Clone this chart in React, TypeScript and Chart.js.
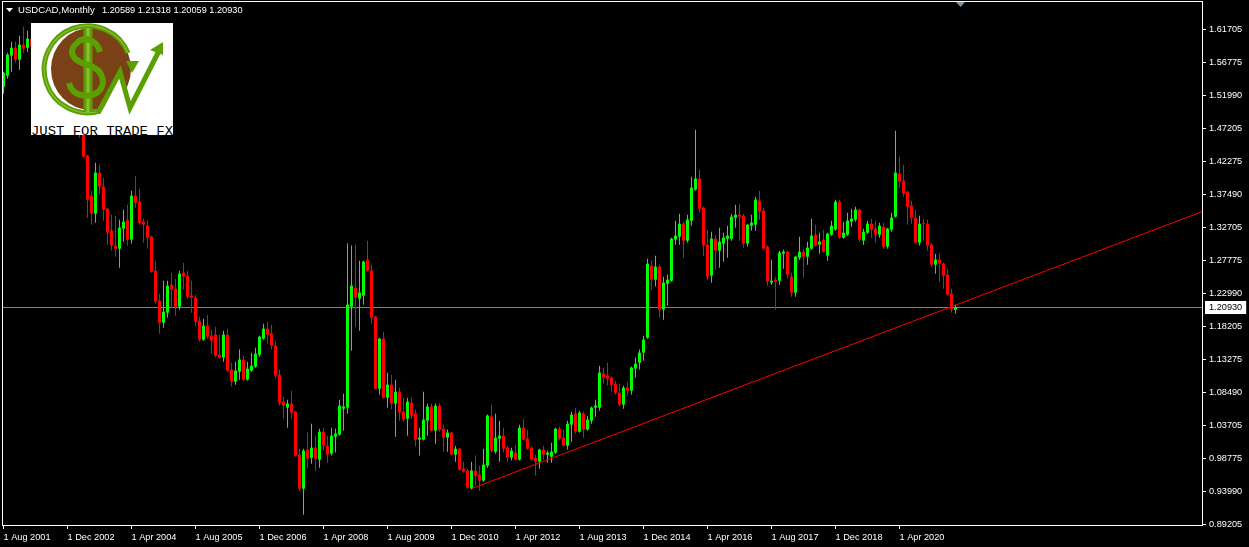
import React, { useEffect, useRef } from "react";
import { Chart, registerables } from "chart.js";

Chart.register(...registerables);

const symbolLabel = "USDCAD,Monthly";
const quoteLabel = "1.20589 1.21318 1.20059 1.20930";
const logoText = "JUST FOR TRADE FX";

const currentPrice = 1.2093;
const priceTicks = [1.61705, 1.56775, 1.5199, 1.47205, 1.42275, 1.3749, 1.32705, 1.27775, 1.2299, 1.18205, 1.13275, 1.0849, 1.03705, 0.98775, 0.9399, 0.89205];
const dateTickIndex = [0, 16, 32, 48, 64, 80, 96, 112, 128, 144, 160, 176, 192, 208, 224];
const dateLabels = ["1 Aug 2001", "1 Dec 2002", "1 Apr 2004", "1 Aug 2005", "1 Dec 2006", "1 Apr 2008", "1 Aug 2009", "1 Dec 2010", "1 Apr 2012", "1 Aug 2013", "1 Dec 2014", "1 Apr 2016", "1 Aug 2017", "1 Dec 2018", "1 Apr 2020"];

const opens = [
  1.5328,1.5489,1.5783,1.5899,1.5724,1.5944,1.5899,1.6032,1.5944,1.5841,
  1.6046,1.5870,1.5607,1.5753,1.5519,1.5695,1.5577,1.5314,1.4992,1.5138,
  1.4728,1.4318,1.3732,1.3468,1.4069,1.3864,1.3541,1.3219,1.3000,1.2955,
  1.3248,1.3380,1.3087,1.3732,1.3644,1.3351,1.3292,1.3131,1.2633,1.2193,
  1.1871,1.2018,1.2428,1.2369,1.2105,1.2604,1.2560,1.2267,1.2237,1.1900,
  1.1622,1.1827,1.1681,1.1695,1.1402,1.1359,1.1695,1.1183,1.1007,1.1153,
  1.1329,1.1036,1.1168,1.1227,1.1402,1.1637,1.1783,1.1710,1.1534,1.1109,
  1.0714,1.0626,1.0685,1.0567,.9937,.9439,1.0011,.9893,1.0040,.9864,
  1.0274,1.0069,.9952,1.0201,1.0230,1.0611,1.0626,1.2105,1.2384,1.2223,
  1.2267,1.2794,1.2633,1.1959,1.0904,1.1637,1.0772,1.0963,1.0685,1.0860,
  1.0567,1.0465,1.0699,1.0538,1.0157,1.0157,1.0435,1.0641,1.0289,1.0655,
  1.0318,1.0186,1.0260,.9937,1.0025,.9732,.9703,.9439,.9703,.9644,
  .9557,.9776,1.0494,.9981,1.0172,1.0216,1.0040,.9893,.9967,.9864,
  1.0333,1.0172,1.0040,.9893,.9835,1.0011,.9937,.9908,.9967,1.0318,
  1.0186,1.0069,1.0377,1.0538,1.0274,1.0538,1.0304,1.0435,1.0626,1.0626,
  1.1124,1.1095,1.1065,1.0977,1.0845,1.0670,1.0919,1.0875,1.1197,1.1285,
  1.1432,1.1651,1.2706,1.2501,1.2692,1.2062,1.2442,1.2486,1.3087,1.3131,
  1.3321,1.3072,1.3365,1.3820,1.3981,1.3556,1.3014,1.2560,1.3102,1.2926,
  1.3029,1.3102,1.3102,1.3409,1.3453,1.3438,1.3029,1.3292,1.3307,1.3658,
  1.3512,1.2985,1.2457,1.2501,1.2486,1.2882,1.2911,1.2545,1.2311,1.2823,
  1.2911,1.2838,1.2955,1.3160,1.3014,1.3087,1.2853,1.3160,1.3234,1.3644,
  1.3116,1.3160,1.3351,1.3380,1.3527,1.3072,1.3190,1.3321,1.3248,1.3160,
  1.3277,1.2985,1.3234,1.3424,1.4054,1.3952,1.3790,1.3585,1.3409,1.3043,
  1.3336,1.3321,1.3014,1.2721,1.2794,1.2735,1.2574,1.2296,1.20589,
];
const highs = [
  1.5548,1.5826,1.5987,1.5987,1.6076,1.6207,1.6149,1.6120,1.6017,1.6090,
  1.6105,1.5929,1.5841,1.5870,1.5797,1.5797,1.5636,1.5358,1.5211,1.5211,
  1.4772,1.4332,1.3805,1.4215,1.4186,1.3995,1.3556,1.3453,1.3438,1.3380,
  1.3527,1.3600,1.3805,1.4025,1.3834,1.3395,1.3365,1.3146,1.2779,1.2296,
  1.2486,1.2486,1.2604,1.2516,1.2633,1.2750,1.2633,1.2486,1.2281,1.1959,
  1.1930,1.1988,1.1769,1.1812,1.1695,1.1754,1.1783,1.1285,1.1300,1.1476,
  1.1388,1.1300,1.1432,1.1505,1.1681,1.1856,1.1886,1.1842,1.1607,1.1183,
  1.0787,1.0743,1.0875,1.0582,1.0025,1.0025,1.0260,1.0391,1.0216,1.0318,
  1.0333,1.0216,1.0333,1.0318,1.0743,1.0831,1.3029,1.3000,1.3014,1.2779,
  1.2779,1.3072,1.2721,1.1974,1.1651,1.1739,1.1139,1.1109,1.1036,1.0919,
  1.0772,1.0772,1.0772,1.0597,1.0333,1.0860,1.0685,1.0685,1.0685,1.0685,
  1.0377,1.0304,1.0274,1.0069,1.0040,.9835,.9732,.9835,.9923,.9776,
  1.0025,1.0524,1.0670,1.0538,1.0435,1.0333,1.0069,1.0040,1.0084,1.0377,
  1.0465,1.0304,1.0055,.9937,1.0025,1.0069,.9996,1.0113,1.0333,1.0348,
  1.0304,1.0435,1.0567,1.0626,1.0582,1.0567,1.0509,1.0641,1.0743,1.1241,
  1.1212,1.1285,1.1080,1.1021,1.0977,1.0948,1.1007,1.1227,1.1359,1.1476,
  1.1681,1.2809,1.2779,1.2853,1.2721,1.2545,1.2574,1.3116,1.3365,1.3468,
  1.3351,1.3453,1.4010,1.4699,1.4113,1.3570,1.3234,1.3204,1.3160,1.3263,
  1.3190,1.3292,1.3468,1.3600,1.3614,1.3468,1.3321,1.3453,1.3717,1.3805,
  1.3556,1.3000,1.2794,1.2545,1.2926,1.2941,1.2926,1.2604,1.2853,1.3131,
  1.2955,1.3058,1.3395,1.3307,1.3190,1.3234,1.3190,1.3365,1.3673,1.3673,
  1.3351,1.3483,1.3541,1.3570,1.3541,1.3248,1.3365,1.3395,1.3365,1.3336,
  1.3336,1.3263,1.3483,1.4684,1.4303,1.4186,1.3805,1.3658,1.3527,1.3438,
  1.3395,1.3380,1.3029,1.2882,1.2882,1.2750,1.2662,1.2369,1.21318,
];
const lows = [
  1.5226,1.5446,1.5548,1.5680,1.5577,1.5826,1.5841,1.5870,1.5753,1.5797,
  1.5783,1.5548,1.5548,1.5460,1.5431,1.5489,1.5211,1.4874,1.4918,1.4581,
  1.4288,1.3409,1.3307,1.3336,1.3761,1.3365,1.3014,1.2926,1.2838,1.2677,
  1.3058,1.3000,1.3029,1.3556,1.3307,1.3043,1.2955,1.2604,1.2149,1.1710,
  1.1798,1.1944,1.2091,1.1974,1.2062,1.2355,1.2223,1.2018,1.1827,1.1593,
  1.1607,1.1637,1.1417,1.1359,1.1344,1.1300,1.1153,1.0934,1.0963,1.1036,
  1.1021,1.1021,1.1153,1.1212,1.1373,1.1622,1.1563,1.1476,1.1051,1.0655,
  1.0465,1.0333,1.0465,.9908,.9410,.9058,.9747,.9805,.9703,.9747,
  .9996,.9820,.9923,.9967,1.0215,1.0289,1.0538,1.1461,1.1812,1.1754,
  1.2135,1.2618,1.1856,1.0890,1.0816,1.0758,1.0626,1.0597,1.0201,1.0435,
  1.0421,1.0216,1.0465,1.0055,.9923,1.0143,1.0216,1.0274,1.0098,1.0274,
  .9981,.9981,.9923,.9835,.9703,.9674,.9439,.9425,.9483,.9410,
  .9542,.9747,.9967,.9952,.9835,.9967,.9835,.9850,.9850,.9850,
  1.0143,1.0011,.9850,.9630,.9732,.9864,.9820,.9820,.9952,1.0143,
  1.0055,1.0011,1.0128,1.0245,1.0260,1.0186,1.0289,1.0391,1.0494,1.0582,
  1.0977,1.0948,1.0860,1.0816,1.0641,1.0611,1.0802,1.0816,1.1065,1.1183,
  1.1314,1.1637,1.2355,1.2399,1.1944,1.1915,1.2120,1.2472,1.3014,1.3014,
  1.2823,1.3043,1.3292,1.3805,1.3483,1.2853,1.2501,1.2457,1.2648,1.2677,
  1.2765,1.2823,1.3072,1.3263,1.3072,1.2970,1.2985,1.3219,1.3219,1.3380,
  1.2941,1.2413,1.2428,1.2062,1.2428,1.2662,1.2516,1.2252,1.2252,1.2794,
  1.2530,1.2721,1.2941,1.2985,1.2882,1.2897,1.2779,1.3146,1.3219,1.3102,
  1.3102,1.3146,1.3277,1.3351,1.3058,1.3014,1.3175,1.3116,1.3043,1.3116,
  1.2955,1.2955,1.3204,1.3409,1.3849,1.3717,1.3307,1.3321,1.3029,1.3000,
  1.3072,1.2926,1.2692,1.2589,1.2472,1.2369,1.2267,1.2018,1.20059,
];
const closes = [
  1.5533,1.5797,1.5899,1.5724,1.5944,1.5885,1.6032,1.5914,1.5841,1.6046,
  1.5870,1.5607,1.5753,1.5519,1.5695,1.5577,1.5285,1.4992,1.5138,1.4728,
  1.4303,1.3673,1.3468,1.4069,1.3864,1.3527,1.3190,1.3000,1.2955,1.3263,
  1.3351,1.3087,1.3732,1.3629,1.3336,1.3307,1.3116,1.2618,1.2179,1.1871,
  1.2032,1.2413,1.2355,1.2105,1.2589,1.2545,1.2252,1.2237,1.1886,1.1622,
  1.1827,1.1666,1.1607,1.1388,1.1359,1.1695,1.1168,1.1007,1.1168,1.1329,
  1.1036,1.1197,1.1241,1.1417,1.1666,1.1783,1.1695,1.1534,1.1095,1.0699,
  1.0655,1.0685,1.0553,.9923,.9439,.9996,.9879,1.0040,.9879,1.0274,
  1.0069,.9937,1.0216,1.0245,1.0655,1.0641,1.2135,1.2413,1.2237,1.2311,
  1.2765,1.2633,1.1944,1.0904,1.1637,1.0772,1.0963,1.0685,1.0860,1.0553,
  1.0450,1.0714,1.0509,1.0157,1.0186,1.0450,1.0641,1.0289,1.0655,1.0304,
  1.0186,1.0260,.9937,1.0025,.9718,.9688,.9454,.9703,.9630,.9557,
  .9791,1.0509,.9996,1.0186,1.0216,1.0025,.9893,.9996,.9864,1.0333,
  1.0157,1.0025,.9864,.9835,1.0011,.9937,.9967,.9981,1.0318,1.0172,
  1.0069,1.0391,1.0523,1.0274,1.0553,1.0304,1.0450,1.0626,1.0655,1.1139,
  1.1065,1.1051,1.0963,1.0845,1.0670,1.0919,1.0875,1.1212,1.1270,1.1432,
  1.1622,1.2735,1.2501,1.2692,1.2062,1.2457,1.2501,1.3102,1.3146,1.3321,
  1.3072,1.3380,1.3849,1.3981,1.3541,1.3000,1.2545,1.3102,1.2926,1.3058,
  1.3116,1.3146,1.3424,1.3453,1.3424,1.3029,1.3307,1.3336,1.3673,1.3497,
  1.2955,1.2472,1.2486,1.2472,1.2897,1.2911,1.2574,1.2311,1.2838,1.2911,
  1.2838,1.2970,1.3146,1.3000,1.3058,1.2911,1.3175,1.3292,1.3644,1.3116,
  1.3190,1.3365,1.3395,1.3527,1.3087,1.3204,1.3321,1.3234,1.3160,1.3292,
  1.2985,1.3248,1.3409,1.4069,1.3937,1.3761,1.3570,1.3409,1.3043,1.3321,
  1.3321,1.3000,1.2721,1.2794,1.2735,1.2560,1.2281,1.2062,1.20930,
];

const trendStart = { x: 117, y: 0.9439 };
const trendEnd = { x: 299.625, y: 1.3497 };
const xMin = -0.375;
const xMax = 299.625;
const yMin = 0.89066;
const yMax = 1.65836;

const FONT = '"Liberation Sans", Arial, sans-serif';
const AXIS_SIZE = 9.2;
const UP = "#00ff00";
const DOWN = "#ff0000";

const chrome = {
  id: "mt4Chrome",
  beforeDraw(chart: any) {
    const { ctx, width, height } = chart;
    ctx.save();
    ctx.fillStyle = "#000";
    ctx.fillRect(0, 0, width, height);
    ctx.restore();
  },
  afterDraw(chart: any) {
    const { ctx, chartArea: a } = chart;
    ctx.save();
    ctx.strokeStyle = "#fff";
    ctx.lineWidth = 1;
    ctx.strokeRect(a.left + 0.5, a.top + 0.5, a.right - a.left, a.bottom - a.top);
    ctx.fillStyle = "#fff";
    ctx.beginPath();
    ctx.moveTo(6, 8);
    ctx.lineTo(13, 8);
    ctx.lineTo(9.5, 12);
    ctx.closePath();
    ctx.fill();
    ctx.textBaseline = "alphabetic";
    ctx.textAlign = "left";
    ctx.font = `9.6px ${FONT}`;
    ctx.fillText(symbolLabel, 18, 13);
    ctx.font = `${AXIS_SIZE}px ${FONT}`;
    ctx.fillText(quoteLabel, 102, 13);
    ctx.fillStyle = "#7f95a5";
    ctx.beginPath();
    ctx.moveTo(956, 2);
    ctx.lineTo(965, 2);
    ctx.lineTo(960.5, 7);
    ctx.closePath();
    ctx.fill();
    ctx.restore();
  },
};

function Logo() {
  const green = "#5aa000";
  const light = "#8fbc3c";
  const brown = "#7a4117";
  return (
    <svg width={1249} height={547} style={{ position: "fixed", left: 0, top: 0, pointerEvents: "none" }}>
      <defs>
        <clipPath id="logoClip"><rect x={31} y={23} width={142} height={112} /></clipPath>
      </defs>
      <g clipPath="url(#logoClip)">
        <rect x={31} y={23} width={142} height={112} fill="#fff" />
        <ellipse cx={91} cy={69} rx={40} ry={41} fill={brown} />
        <polygon points="99,118 120,74 124,84 129,108 135,100 128,85 137,60 137,118" fill="#fff" />
        <path d="M100 111 A43.5 43.5 0 1 1 128 53" fill="none" stroke={green} strokeWidth={5} />
        <path d="M100 111 A43.5 43.5 0 1 1 128 53" fill="none" stroke={light} strokeWidth={1.2} />
        <polygon points="126,61 139,61 132,73" fill={green} />
        <rect x={83.5} y={28} width={9} height={84} fill={green} />
        <rect x={86.5} y={28} width={3} height={84} fill={light} />
        <path d="M100 52 C97 40 85 36 78 42 C68 50 70 60 88 65 C105 70 106 85 98 92 C88 99 72 96 69 83" fill="none" stroke={green} strokeWidth={6} />
        <polyline points="98,113 120,72 130,108 161,47" fill="none" stroke={green} strokeWidth={5} />
        <polygon points="150,50 163,42 163,55" fill={green} />
        <text x={31} y={134.5} textLength={142} lengthAdjust="spacingAndGlyphs" fontFamily="Liberation Mono" fontSize={13} fill="#000">{logoText}</text>
      </g>
    </svg>
  );
}

export default function App() {
  const ref = useRef<HTMLCanvasElement | null>(null);
  useEffect(() => {
    if (!ref.current) return;
    const colors = closes.map((c, i) => (c >= opens[i] ? UP : DOWN));
    const chart = new Chart(ref.current, {
      type: "bar",
      plugins: [chrome],
      data: {
        datasets: [
          {
            type: "line",
            label: "price",
            data: [{ x: xMin, y: currentPrice }, { x: xMax, y: currentPrice }],
            borderColor: "#808080",
            borderWidth: 1,
            pointRadius: 0,
            order: 10,
          },
          {
            label: "wick",
            data: lows.map((l, i) => ({ x: i, y: [l, highs[i]] })),
            backgroundColor: colors,
            barThickness: 1,
            grouped: false,
            inflateAmount: 0,
            order: 3,
          },
          {
            label: "body",
            data: opens.map((o, i) => ({ x: i, y: [o, closes[i]] })),
            backgroundColor: colors,
            barThickness: 3,
            grouped: false,
            inflateAmount: 0,
            order: 2,
          },
          {
            type: "line",
            label: "trend",
            data: [trendStart, trendEnd],
            borderColor: "#ff0000",
            borderWidth: 1,
            pointRadius: 0,
            order: 1,
          },
        ] as any,
      },
      options: {
        responsive: false,
        devicePixelRatio: 1,
        animation: false,
        events: [],
        layout: { padding: { left: 2, top: 1, right: 0, bottom: 0 } },
        plugins: { legend: { display: false }, tooltip: { enabled: false }, title: { display: false } },
        scales: {
          x: {
            type: "linear",
            offset: false,
            min: xMin,
            max: xMax,
            afterBuildTicks: (s: any) => { s.ticks = dateTickIndex.map((v) => ({ value: v })); },
            afterFit: (s: any) => { s.height = 22; s.paddingLeft = 0; s.paddingRight = 0; },
            grid: { offset: false, drawOnChartArea: false, drawTicks: true, tickLength: 4, tickColor: "#fff" },
            border: { display: false },
            ticks: {
              autoSkip: false,
              maxRotation: 0,
              minRotation: 0,
              align: "start",
              padding: 3,
              color: "#fff",
              font: { family: FONT, size: AXIS_SIZE },
              callback: (v: any) => dateLabels[dateTickIndex.indexOf(Number(v))] ?? "",
            },
          },
          y: {
            type: "linear",
            position: "right",
            min: yMin,
            max: yMax,
            afterBuildTicks: (s: any) => { s.ticks = [...priceTicks, currentPrice].map((v) => ({ value: v })); },
            afterFit: (s: any) => { s.width = 47; s.paddingTop = 0; s.paddingBottom = 0; },
            grid: {
              drawOnChartArea: false,
              drawTicks: true,
              tickLength: 4,
              tickColor: (c: any) => (c.tick && c.tick.value === currentPrice ? "transparent" : "#fff"),
            },
            border: { display: false },
            ticks: {
              autoSkip: false,
              crossAlign: "near",
              padding: 3,
              color: (c: any) => (c.tick && c.tick.value === currentPrice ? "#000" : "#fff"),
              showLabelBackdrop: (c: any) => !!(c.tick && c.tick.value === currentPrice),
              backdropColor: "#fff",
              backdropPadding: { x: 4, y: 1 },
              font: { family: FONT, size: AXIS_SIZE },
              callback: (v: any) => Number(v).toFixed(5),
            },
          },
        },
      } as any,
    });
    return () => chart.destroy();
  }, []);
  return (
    <>
      <canvas ref={ref} width={1249} height={547} style={{ position: "fixed", left: 0, top: 0, width: 1249, height: 547, display: "block" }} />
      <Logo />
    </>
  );
}
